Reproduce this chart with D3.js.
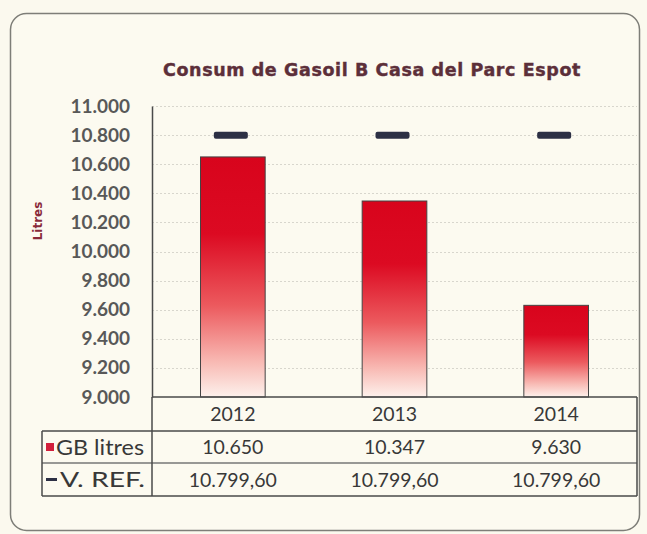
<!DOCTYPE html>
<html>
<head>
<meta charset="utf-8">
<script src="https://cdn.jsdelivr.net/npm/d3@7"></script>
<style>
  html, body { margin: 0; padding: 0; background: #fbf9ee; }
  svg { display: block; }
</style>
</head>
<body>
<svg id="chart" width="647" height="534"></svg>
<script>
// Gas-oil consumption per year and the reference value
const years = ["2012", "2013", "2014"];
const litres = [10650, 10347, 9630];
const refValue = [10799.60, 10799.60, 10799.60];
const yTicks = [9000, 9200, 9400, 9600, 9800, 10000, 10200, 10400, 10600, 10800, 11000];
const seriesNames = ["GB litres", "V. REF."];
const title = "Consum de Gasoil B Casa del Parc Espot";
const yTitle = "Litres";

const ca = d3.formatLocale({ decimal: ",", thousands: ".", grouping: [3], currency: ["", " €"] });
const fmtInt = ca.format(",.0f");
const fmtDec = ca.format(",.2f");

const svg = d3.select("#chart");

// frame
svg.append("rect")
  .attr("x", 10.5).attr("y", 13.5).attr("width", 629).attr("height", 517)
  .attr("rx", 16).attr("ry", 16)
  .attr("fill", "#fcfaf0").attr("stroke", "#7e7e78").attr("stroke-width", 1.5);

const plot = { left: 152, right: 637, top: 106, bottom: 397 };

const y = d3.scaleLinear().domain([9000, 11000]).range([plot.bottom, plot.top]);
const x = d3.scaleBand().domain(years).range([plot.left, plot.right])
  .paddingInner(0.6).paddingOuter(0.3);

// gradient for the bars
const defs = svg.append("defs");
const grad = defs.append("linearGradient").attr("id", "barGrad")
  .attr("x1", 0).attr("y1", 0).attr("x2", 0).attr("y2", 1);
[["0%", "#d8041c"], ["32%", "#dc0a22"], ["62%", "#ec5a5e"], ["85%", "#f8b8b2"], ["100%", "#fdf1ec"]]
  .forEach(([o, c]) => grad.append("stop").attr("offset", o).attr("stop-color", c));

// gridlines
svg.append("g")
  .selectAll("line").data(yTicks.slice(1))
  .join("line")
  .attr("x1", plot.left).attr("x2", plot.right)
  .attr("y1", d => Math.round(y(d)) + 0.5).attr("y2", d => Math.round(y(d)) + 0.5)
  .attr("stroke", "#d8d6cd").attr("stroke-width", 1).attr("stroke-dasharray", "2,2");

// y axis
const yAxis = d3.axisLeft(y).tickValues(yTicks).tickSize(0).tickPadding(22)
  .tickFormat(d => fmtInt(d));
const gy = svg.append("g").attr("transform", `translate(${plot.left},0)`).call(yAxis);
gy.select(".domain").attr("stroke", "#4a4a4a").attr("stroke-width", 1.5);
gy.selectAll("text")
  .attr("font-family", "Lato, 'Open Sans', sans-serif")
  .attr("font-size", 19).attr("font-weight", 700).attr("fill", "#585858");

// bars
svg.append("g").selectAll("rect").data(years)
  .join("rect")
  .attr("x", d => x(d)).attr("width", x.bandwidth())
  .attr("y", (d, i) => y(litres[i])).attr("height", (d, i) => y(9000) - y(litres[i]))
  .attr("fill", "url(#barGrad)").attr("stroke", "#444").attr("stroke-width", 1);

// reference markers
const markW = 34;
svg.append("g").selectAll("rect").data(years)
  .join("rect")
  .attr("x", d => x(d) + x.bandwidth() / 2 - markW / 2 - 2)
  .attr("y", (d, i) => y(refValue[i]) - 3.5)
  .attr("width", markW).attr("height", 7).attr("rx", 2)
  .attr("fill", "#2c2f44");

// title
svg.append("text")
  .attr("x", 372).attr("y", 76).attr("text-anchor", "middle")
  .attr("font-family", "'DejaVu Sans', sans-serif").attr("font-weight", 700)
  .attr("font-size", 17.5).attr("letter-spacing", 0.6).attr("fill", "#5c2f3a")
  .attr("stroke", "#5c2f3a").attr("stroke-width", 0.4)
  .text(title);

// y axis title
svg.append("text")
  .attr("transform", `translate(42,221) rotate(-90)`)
  .attr("text-anchor", "middle")
  .attr("font-family", "'DejaVu Sans', sans-serif").attr("font-weight", 700)
  .attr("font-size", 12).attr("fill", "#8a2a3a")
  .text(yTitle);

// data table
const rows = { top: 397, r1: 431, r2: 463, bottom: 496 };
const tableLeft = 42;
const tbl = svg.append("g").attr("stroke", "#4a4a4a").attr("stroke-width", 1.5).attr("fill", "none");
tbl.append("line").attr("x1", plot.left).attr("x2", plot.right).attr("y1", rows.top).attr("y2", rows.top);
tbl.append("line").attr("x1", tableLeft).attr("x2", plot.right).attr("y1", rows.r1).attr("y2", rows.r1);
tbl.append("line").attr("x1", tableLeft).attr("x2", plot.right).attr("y1", rows.r2).attr("y2", rows.r2)
  .attr("stroke", "#777");
tbl.append("line").attr("x1", tableLeft).attr("x2", plot.right).attr("y1", rows.bottom).attr("y2", rows.bottom);
tbl.append("line").attr("x1", tableLeft).attr("x2", tableLeft).attr("y1", rows.r1).attr("y2", rows.bottom);
tbl.append("line").attr("x1", plot.left).attr("x2", plot.left).attr("y1", rows.top).attr("y2", rows.bottom);
tbl.append("line").attr("x1", plot.right).attr("x2", plot.right).attr("y1", rows.top).attr("y2", rows.bottom);

const cellFont = "Lato, 'Open Sans', sans-serif";
const cellSize = 19.5;
const cellColor = "#383838";
const cx = d => x(d) + x.bandwidth() / 2;

// category header row
svg.append("g").selectAll("text").data(years).join("text")
  .attr("x", cx).attr("y", (rows.top + rows.r1) / 2 + 7)
  .attr("text-anchor", "middle").attr("font-family", cellFont)
  .attr("font-size", cellSize).attr("fill", cellColor)
  .text(d => d);

// values rows
svg.append("g").selectAll("text").data(years).join("text")
  .attr("x", cx).attr("y", (rows.r1 + rows.r2) / 2 + 7)
  .attr("text-anchor", "middle").attr("font-family", cellFont)
  .attr("font-size", cellSize).attr("fill", cellColor)
  .text((d, i) => fmtInt(litres[i]));

svg.append("g").selectAll("text").data(years).join("text")
  .attr("x", cx).attr("y", (rows.r2 + rows.bottom) / 2 + 7)
  .attr("text-anchor", "middle").attr("font-family", cellFont)
  .attr("font-size", cellSize).attr("fill", cellColor)
  .text((d, i) => fmtDec(refValue[i]));

// row labels with legend keys
const labelSize = 21.5;
svg.append("rect").attr("x", 46).attr("y", (rows.r1 + rows.r2) / 2 - 4).attr("width", 8).attr("height", 8)
  .attr("fill", "#d21f3c");
svg.append("text").attr("x", 56).attr("y", (rows.r1 + rows.r2) / 2 + 7.5)
  .attr("font-family", cellFont).attr("font-size", labelSize).attr("fill", cellColor)
  .attr("textLength", 88).attr("lengthAdjust", "spacingAndGlyphs")
  .text(seriesNames[0]);
svg.append("rect").attr("x", 46).attr("y", (rows.r2 + rows.bottom) / 2 - 1.5).attr("width", 11).attr("height", 3)
  .attr("fill", "#2c2f44");
svg.append("text").attr("x", 60).attr("y", (rows.r2 + rows.bottom) / 2 + 7.5)
  .attr("font-family", cellFont).attr("font-size", labelSize).attr("fill", cellColor)
  .attr("textLength", 85).attr("lengthAdjust", "spacingAndGlyphs")
  .text(seriesNames[1]);
</script>
</body>
</html>
